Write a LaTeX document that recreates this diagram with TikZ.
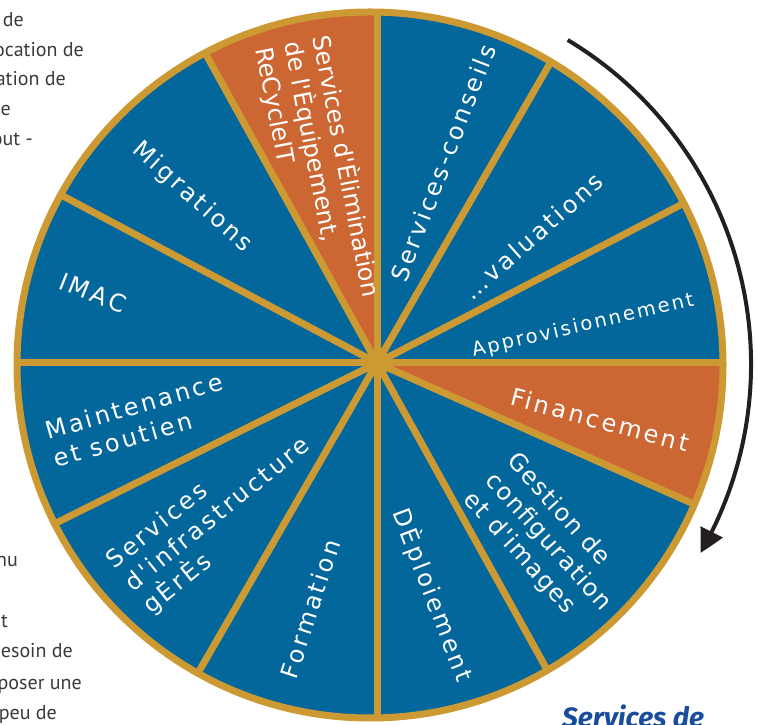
\documentclass[tikz,border=0pt]{standalone}
\usepackage{fontspec}
\usetikzlibrary{arrows.meta,bending}

\newfontfamily\wheelfont{DejaVu Sans}[LetterSpace=12]
\newfontfamily\midwheelfont{DejaVu Sans}[LetterSpace=6]
\newfontfamily\tightwheelfont{DejaVu Sans}
\newfontfamily\sidefont{PT Sans}
\newfontfamily\titlefont{Fira Sans}

\definecolor{wheelblue}{HTML}{04679B}
\definecolor{wheelorange}{HTML}{CC6633}
\definecolor{wheelgold}{HTML}{CC9933}
\definecolor{arrowdark}{HTML}{231F20}
\definecolor{sidegrey}{HTML}{3A3A3A}
\definecolor{titleblue}{HTML}{1A4C9C}

\begin{document}
\begin{tikzpicture}[x=1bp,y=1bp,
    spoke/.style={wheelgold,line width=7bp},
    sectortext/.style={text=white,align=left,inner sep=0pt,
      font=\wheelfont\fontsize{24bp}{29bp}\selectfont},
    sidetext/.style={text=sidegrey,anchor=base east,inner sep=0pt,
      font=\sidefont\fontsize{20bp}{24bp}\selectfont}]
  \useasboundingbox (0,0) rectangle (757,725);
  \coordinate (hub) at (377,362);
  \coordinate (rim) at (370,360);
  \coordinate (turn) at (373,361);

  % Sectors, cut to the rim
  \begin{scope}
    \clip (rim) circle (353);
    \foreach \a/\b/\c in {0/27.5/wheelblue, 27.5/60/wheelblue, 60/90/wheelblue,
        90/119/wheelorange, 119/152/wheelblue, 152/180/wheelblue,
        180/206.5/wheelblue, 206.5/240/wheelblue, 240/270/wheelblue,
        270/299/wheelblue, 299/336/wheelblue, 336/360/wheelorange}
      \fill[\c] (hub) -- ++(\a:450) arc (\a:\b:450) -- cycle;
    % Spokes
    \foreach \a in {0,27.5,60,90,119,152,180,206.5,240,270,299,336}
      \draw[spoke] (hub) -- ++(\a:450);
  \end{scope}

  % Rim and hub
  \draw[wheelgold,line width=7bp] (rim) circle (353);
  \fill[wheelgold] (hub) circle (13);

  % Turning arrow
  \draw[arrowdark,line width=4bp,-{Triangle[length=24bp,width=24bp,bend]}]
    (turn) ++(59:378) arc (59:-30:378);

  % Sector labels
  \node[sectortext,rotate=69] (conseils) at (443,562) {Services-conseils};
  \node[sectortext,rotate=41.5] (evaluations) at (533,489) {…valuations};
  \node[sectortext,rotate=13,font=\wheelfont\fontsize{19.5bp}{23bp}\selectfont]
    (appro) at (583,399) {Approvisionnement};
  \node[sectortext,rotate=-15] (financement) at (600,305) {Financement};
  \node[sectortext,rotate=-48,font=\midwheelfont\fontsize{24bp}{29bp}\selectfont]
    (gestion) at (548,183) {Gestion de\\configuration\\et d'images};
  \node[sectortext,rotate=-69] (deploiement) at (433,130) {DÈploiement};
  \node[sectortext,rotate=72] (formation) at (310,116) {Formation};
  \node[sectortext,rotate=39] (infra) at (218,210) {Services\\d'infrastructure\\gÈrÈs};
  \node[sectortext,rotate=16] (maintenance) at (138,305) {Maintenance\\et soutien};
  \node[sectortext,rotate=-22] (imac) at (93,432) {IMAC};
  \node[sectortext,rotate=-42] (migrations) at (192,528) {Migrations};
  \node[sectortext,rotate=-79,font=\tightwheelfont\fontsize{24bp}{29bp}\selectfont]
    (elimination) at (318,553) {Services d'Èlimination\\de l'Èquipement,\\ReCycleIT};

  % Text beside the wheel
  \node[sidetext] (topa) at (24,698) {de};
  \node[sidetext] (topb) at (84,668) {location de};
  \node[sidetext] (topc) at (66,639) {ation de};
  \node[sidetext] (topd) at (11,609) {ue};
  \node[sidetext] (tope) at (33,579) {out -};
  \node[sidetext] (bota) at (18,158) {nu};
  \node[sidetext] (botb) at (8,97) {et};
  \node[sidetext] (botc) at (73,67) {esoin de};
  \node[sidetext] (botd) at (82,35) {poser une};
  \node[sidetext] (bote) at (57,5) {peu de};

  % Caption under the wheel
  \node[anchor=base west,inner sep=0pt,text=titleblue,
    font=\titlefont\bfseries\itshape\fontsize{28bp}{32bp}\selectfont]
    (caption) at (562,-3) {Services de};
\end{tikzpicture}
\end{document}
